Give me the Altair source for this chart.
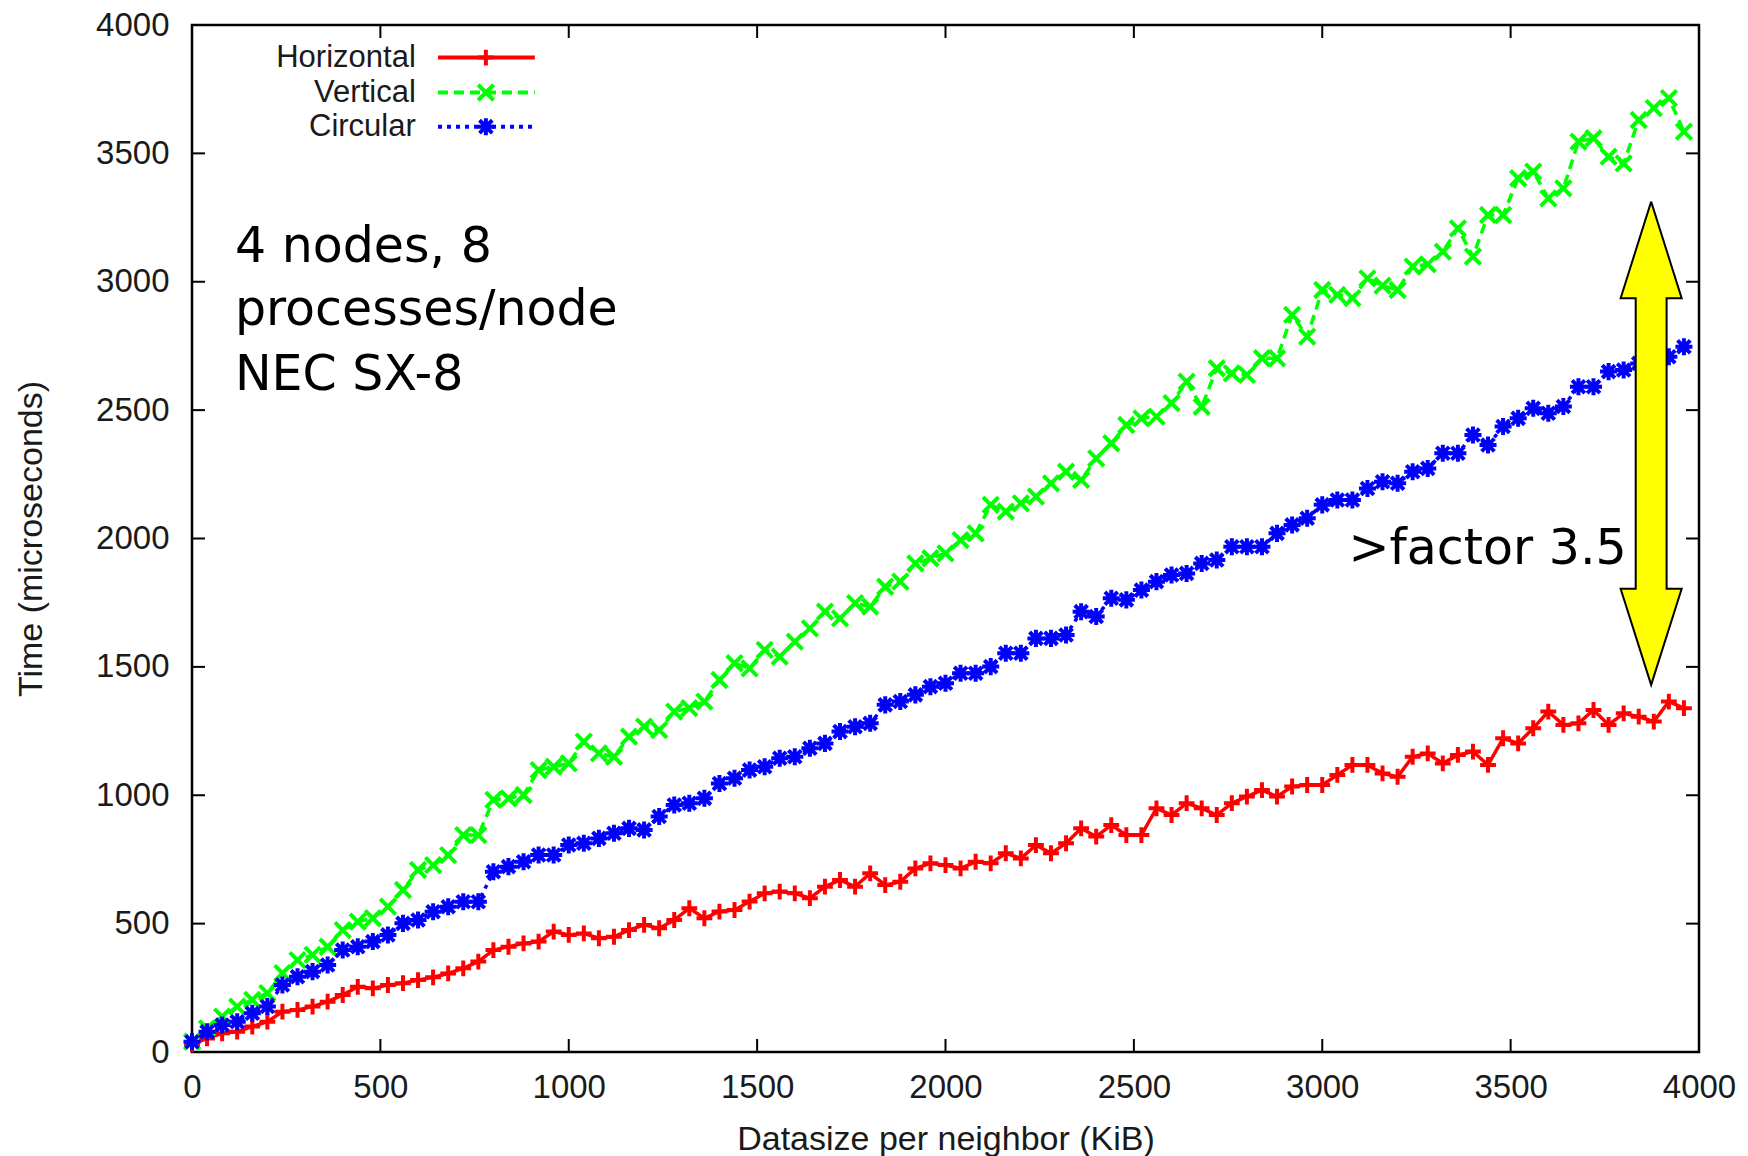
import altair as alt
import pandas as pd

# ---------------- data ----------------
x_kib = list(range(0, 4000, 40))

horizontal = [
    30, 53, 73, 79, 99, 118, 157, 164, 177, 196, 222, 254, 248, 261, 268, 280, 291, 306, 326, 352,
    397, 410, 423, 430, 469, 456,
    462, 443, 449, 475, 495, 482, 514, 560, 521, 547, 553, 586, 618, 625, 618, 599, 644, 670, 644,
    696, 650, 663, 715, 735, 728,
    715, 741, 735, 774, 754, 806, 774, 813, 871, 839, 884, 845, 845, 949, 923, 969, 949, 923, 969,
    995, 1020, 995, 1034, 1040, 1040,
    1079, 1118, 1118, 1085, 1072, 1150, 1163, 1124, 1157, 1170, 1118, 1222, 1202, 1261, 1326, 1274,
    1280, 1332, 1274, 1319, 1306, 1287, 1365, 1339,
]

vertical = [
    40, 92, 138, 177, 203, 229, 307, 358, 378, 410, 475, 508, 521, 566, 631, 709, 728, 767, 845, 845,
    982, 988, 1001, 1098, 1111, 1124,
    1209, 1163, 1150, 1228, 1267, 1254, 1326, 1339, 1365, 1449, 1514, 1494, 1566, 1540, 1598, 1650,
    1715, 1689, 1748, 1735, 1812, 1832, 1903, 1923, 1942,
    1994, 2020, 2131, 2105, 2137, 2163, 2215, 2260, 2228, 2312, 2371, 2442, 2468, 2475, 2527, 2611,
    2513, 2663, 2643, 2637, 2702, 2702, 2871, 2786, 2968,
    2949, 2936, 3013, 2985, 2968, 3059, 3068, 3117, 3208, 3098, 3260, 3260, 3403, 3429, 3325, 3364,
    3546, 3559, 3487, 3461, 3630, 3676, 3715, 3585,
]

circular = [
    40, 79, 105, 118, 151, 177, 261, 293, 313, 339, 397, 410, 430, 456, 501, 514, 546, 566, 585, 585,
    702, 722, 741, 767, 767, 806,
    813, 832, 852, 871, 865, 917, 962, 969, 988, 1046, 1066, 1098, 1111, 1144, 1150, 1183, 1202,
    1248, 1267, 1280, 1352, 1365, 1391, 1423, 1436,
    1475, 1475, 1501, 1553, 1553, 1611, 1611, 1624, 1715, 1696, 1767, 1761, 1799, 1832, 1858, 1864,
    1903, 1916, 1968, 1968, 1968, 2020, 2053, 2079, 2131,
    2150, 2150, 2195, 2221, 2215, 2260, 2273, 2332, 2332, 2403, 2364, 2436, 2468, 2507, 2488, 2514,
    2591, 2591, 2650, 2656, 2682, 2702, 2708, 2747,
]

series_names = ["Horizontal", "Vertical", "Circular"]
tick_values = [0, 500, 1000, 1500, 2000, 2500, 3000, 3500, 4000]

x_title = "Datasize per neighbor (KiB)"
y_title = "Time (microseconds)"

note_lines = ["4 nodes, 8", "processes/node", "NEC SX-8"]
note_y = [3078, 2832, 2578]
note_x = 114
factor_text = ">factor 3.5"
factor_x = 3808
factor_y = 1901

# double arrow (data units)
arrow_cx = 3873
arrow_tip_top = 3312
arrow_head_top = 2936
arrow_head_bottom = 1804
arrow_tip_bottom = 1430
arrow_head_half = 81
arrow_shaft_half = 41

# legend placement (data units)
legend_text_x = 594
legend_text_y = [3836, 3700, 3566]
legend_line_y = [3873, 3737, 3604]
legend_line_x = [653, 910]
legend_marker_x = 780

# ---------------- styling ----------------
W, H = 1507, 1027
FONT = "Liberation Sans"
colors = ["#ff0000", "#00ff00", "#0000ff"]
dashes = [[1, 0], [10, 6], [4, 5]]
shapes = [
    "M-1,0L1,0M0,-1L0,1",
    "M-1,-1L1,1M-1,1L1,-1",
    "M-1,0L1,0M0,-1L0,1M-0.75,-0.75L0.75,0.75M-0.75,0.75L0.75,-0.75",
]
sizes = [250, 240, 290]

xs = alt.Scale(domain=[0, 4000], nice=False, zero=False)
ys = alt.Scale(domain=[0, 4000], nice=False, zero=False)

x_axis = alt.Axis(
    values=tick_values, format="d", title=x_title, domain=False, ticks=False, tickSize=0, grid=False,
    labelPadding=19, labelFontSize=33, labelFont=FONT, labelColor="#1a1a1a", labelFlush=False,
    titleFont=FONT, titleFontSize=34, titleFontWeight="normal", titleColor="#1a1a1a",
    titleX=W / 2, titleY=87, titleBaseline="middle", titleAnchor="middle",
)
y_axis = alt.Axis(
    values=tick_values, format="d", title=y_title, domain=False, ticks=False, tickSize=0, grid=False,
    labelPadding=23, labelFontSize=33, labelFont=FONT, labelColor="#1a1a1a", labelFlush=False,
    titleFont=FONT, titleFontSize=34, titleFontWeight="normal", titleColor="#1a1a1a",
    titleX=-161, titleY=H / 2, titleAngle=270, titleBaseline="middle", titleAnchor="middle",
)


def X(field):
    return alt.X(field, scale=xs, axis=x_axis)


def Y(field):
    return alt.Y(field, scale=ys, axis=y_axis)


layers = []

# axis carrier (invisible)
df_axes = pd.DataFrame({"x": [0, 4000], "y": [0, 4000]})
layers.append(alt.Chart(df_axes).mark_point(opacity=0).encode(x=X("x:Q"), y=Y("y:Q")))

# inward ticks on four sides
df_t = pd.DataFrame({"t": tick_values})
TL = 13
tick_style = dict(color="black", strokeWidth=2)
layers.append(alt.Chart(df_t).mark_rule(**tick_style).encode(
    y=Y("t:Q"), x=alt.value(0), x2=alt.value(TL)))
layers.append(alt.Chart(df_t).mark_rule(**tick_style).encode(
    y=Y("t:Q"), x=alt.value(W - TL), x2=alt.value(W)))
layers.append(alt.Chart(df_t).mark_rule(**tick_style).encode(
    x=X("t:Q"), y=alt.value(H), y2=alt.value(H - TL)))
layers.append(alt.Chart(df_t).mark_rule(**tick_style).encode(
    x=X("t:Q"), y=alt.value(0), y2=alt.value(TL)))

# series
for name, vals, col, dash, shp, sz in zip(series_names, [horizontal, vertical, circular],
                                          colors, dashes, shapes, sizes):
    df = pd.DataFrame({"x": x_kib, "y": vals, "series": name})
    layers.append(alt.Chart(df).mark_line(color=col, strokeWidth=3.5, strokeDash=dash).encode(
        x=X("x:Q"), y=Y("y:Q")))
    layers.append(alt.Chart(df).mark_point(shape=shp, size=sz, filled=False, strokeWidth=4,
                                           color=col, opacity=1).encode(
        x=X("x:Q"), y=Y("y:Q")))

# legend (manual, label left of sample)
for i, name in enumerate(series_names):
    dft = pd.DataFrame({"x": [legend_text_x], "y": [legend_text_y[i]], "label": [name]})
    layers.append(alt.Chart(dft).mark_text(align="right", baseline="alphabetic", font=FONT,
                                           fontSize=31, color="#1a1a1a").encode(
        x=X("x:Q"), y=Y("y:Q"), text="label:N"))
    dfl = pd.DataFrame({"x": [legend_line_x[0]], "x2": [legend_line_x[1]], "y": [legend_line_y[i]]})
    layers.append(alt.Chart(dfl).mark_rule(color=colors[i], strokeWidth=4, strokeDash=dashes[i]).encode(
        x=X("x:Q"), x2="x2:Q", y=Y("y:Q")))
    dfm = pd.DataFrame({"x": [legend_marker_x], "y": [legend_line_y[i]]})
    layers.append(alt.Chart(dfm).mark_point(shape=shapes[i], size=sizes[i], filled=False,
                                            strokeWidth=4, color=colors[i], opacity=1).encode(
        x=X("x:Q"), y=Y("y:Q")))

# yellow double arrow
c = arrow_cx
df_fill = pd.DataFrame({
    "y": [arrow_tip_bottom, arrow_head_bottom - 1, arrow_head_bottom + 2,
          arrow_head_top - 2, arrow_head_top + 1, arrow_tip_top],
    "x1": [c, c - arrow_head_half, c - arrow_shaft_half, c - arrow_shaft_half, c - arrow_head_half, c],
    "x2": [c, c + arrow_head_half, c + arrow_shaft_half, c + arrow_shaft_half, c + arrow_head_half, c],
})
layers.append(alt.Chart(df_fill).mark_area(color="#ffff00", opacity=1, orient="horizontal").encode(
    y=Y("y:Q"), x=X("x1:Q"), x2="x2:Q"))
outline_x = [c, c + arrow_head_half, c + arrow_shaft_half, c + arrow_shaft_half, c + arrow_head_half,
             c, c - arrow_head_half, c - arrow_shaft_half, c - arrow_shaft_half, c - arrow_head_half, c]
outline_y = [arrow_tip_top, arrow_head_top, arrow_head_top, arrow_head_bottom, arrow_head_bottom,
             arrow_tip_bottom, arrow_head_bottom, arrow_head_bottom, arrow_head_top, arrow_head_top,
             arrow_tip_top]
df_out = pd.DataFrame({"x": outline_x, "y": outline_y, "i": list(range(len(outline_x)))})
layers.append(alt.Chart(df_out).mark_line(color="black", strokeWidth=2, strokeJoin="miter").encode(
    x=X("x:Q"), y=Y("y:Q"), order="i:Q"))

# annotations
df_note = pd.DataFrame({"x": [note_x] * 3, "y": note_y, "t": note_lines})
layers.append(alt.Chart(df_note).mark_text(align="left", baseline="alphabetic", font="DejaVu Sans",
                                           fontSize=49, color="black").encode(
    x=X("x:Q"), y=Y("y:Q"), text="t:N"))
df_fac = pd.DataFrame({"x": [factor_x], "y": [factor_y], "t": [factor_text]})
layers.append(alt.Chart(df_fac).mark_text(align="right", baseline="alphabetic", font="DejaVu Sans",
                                          fontSize=49, color="black").encode(
    x=X("x:Q"), y=Y("y:Q"), text="t:N"))

chart = alt.layer(*layers).properties(
    width=W, height=H,
    autosize=alt.AutoSizeParams(type="none"),
    padding={"left": 192, "top": 25, "right": 49, "bottom": 104},
    background="white",
).configure_view(stroke="black", strokeWidth=2.5)

chart.save("out.html", embed_options={"renderer": "svg", "actions": False})
